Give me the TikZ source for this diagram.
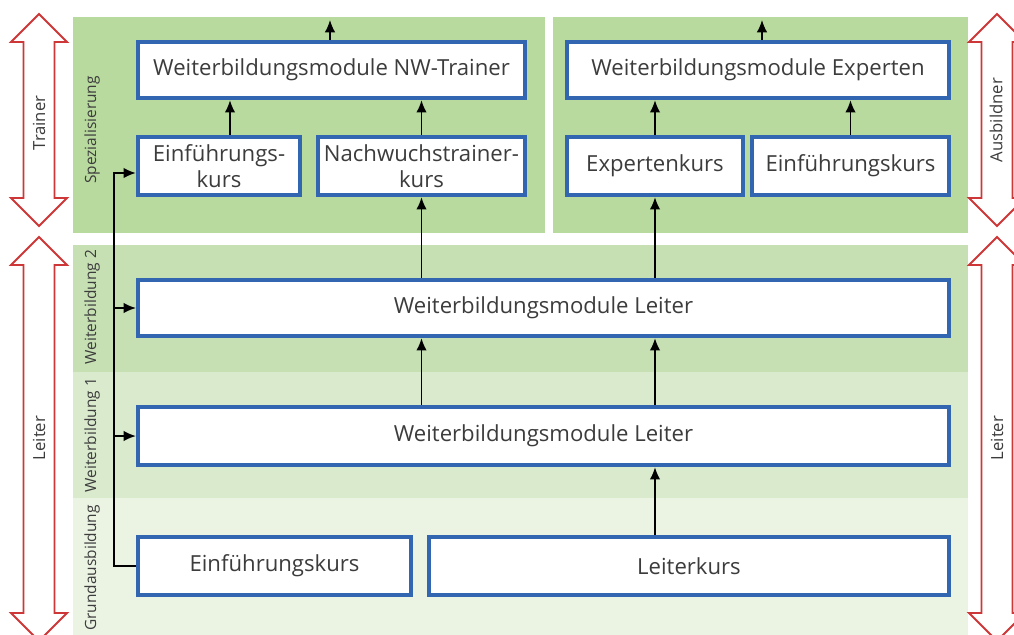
\documentclass[tikz,border=0pt]{standalone}
\usepackage{fontspec}
\setmainfont{Open Sans}
\usetikzlibrary{arrows.meta}

\definecolor{panelgreen}{RGB}{184,218,158}
\definecolor{bandtwo}{RGB}{198,224,180}
\definecolor{bandone}{RGB}{217,234,205}
\definecolor{bandbase}{RGB}{235,243,227}
\definecolor{boxblue}{RGB}{50,102,176}
\definecolor{textgray}{RGB}{60,60,60}
\definecolor{arrowred}{RGB}{205,55,55}

\tikzset{
  modbox/.style={draw=boxblue, line width=2.5pt, fill=white, text=textgray,
    font=\fontsize{12.6}{14.8}\selectfont, align=center, inner sep=0pt},
  bandlabel/.style={rotate=90, text=textgray, font=\fontsize{8.8}{10}\selectfont},
  sidelabel/.style={rotate=90, text=textgray, font=\fontsize{9.5}{11}\selectfont},
  redarrow/.style={draw=arrowred, line width=1.1pt, fill=white, line join=miter},
  link/.style={->, line width=0.9pt},
  >={Latex[length=7pt,width=6pt]}
}

% big red double arrow: centre x, top tip, bottom tip
\newcommand{\bigarrow}[3]{%
  \draw[redarrow] ({#1-28},{#2+28}) -- (#1,#2) -- ({#1+28},{#2+28}) -- ({#1+15.5},{#2+28})
    -- ({#1+15.5},{#3-28}) -- ({#1+28},{#3-28}) -- (#1,#3) -- ({#1-28},{#3-28})
    -- ({#1-15.5},{#3-28}) -- ({#1-15.5},{#2+28}) -- cycle;}

\begin{document}
\begin{tikzpicture}[x=0.02cm, y=-0.02cm]
        \useasboundingbox (0,0) rectangle (1014,635);
        \clip (0,0) rectangle (1014,635);

        % Background panels
        \fill[panelgreen] (73,17) rectangle (545,233);
        \fill[panelgreen] (553,17) rectangle (968,233);
        \fill[bandtwo] (73,245) rectangle (968,372);
        \fill[bandone] (73,372) rectangle (968,498);
        \fill[bandbase] (73,498) rectangle (968,635);

        % Band labels
        \node[bandlabel] (spez) at (92,130) {Spezialisierung};
        \node[bandlabel] (wbtwo) at (92,307) {Weiterbildung 2};
        \node[bandlabel] (wbone) at (92,435) {Weiterbildung 1};
        \node[bandlabel] (grund) at (92,568) {Grundausbildung};

        % Side arrows
        \bigarrow{39}{14}{226}
        \bigarrow{39}{237}{641}
        \bigarrow{997}{14}{226}
        \bigarrow{997}{237}{641}
        \node[sidelabel] (trainer) at (39,123) {Trainer};
        \node[sidelabel] (leiterl) at (39,438) {Leiter};
        \node[sidelabel] (ausbildner) at (996,120) {Ausbildner};
        \node[sidelabel] (leiterr) at (997,438) {Leiter};

        % Spezialisierung Trainer
        \node[modbox, minimum width=7.74cm, minimum height=1.12cm] (nwt) at (331.5,70) {Weiterbildungsmodule NW-Trainer};
        \node[modbox, minimum width=3.24cm, minimum height=1.16cm] (ekone) at (219,166) {Einführungs-\\kurs};
        \node[modbox, minimum width=4.14cm, minimum height=1.16cm] (nwk) at (421.5,166) {Nachwuchstrainer-\\kurs};

        % Spezialisierung Experten
        \node[modbox, minimum width=7.64cm, minimum height=1.12cm] (exp) at (758,70) {Weiterbildungsmodule Experten};
        \node[modbox, minimum width=3.52cm, minimum height=1.16cm] (expk) at (655,166) {Expertenkurs};
        \node[modbox, minimum width=3.94cm, minimum height=1.16cm] (ektwo) at (850.5,166) {Einführungskurs};

        % Leiter
        \node[modbox, minimum width=16.22cm, minimum height=1.12cm] (wbtwobox) at (543.5,308) {Weiterbildungsmodule Leiter};
        \node[modbox, minimum width=16.22cm, minimum height=1.16cm] (wbonebox) at (543.5,436) {Weiterbildungsmodule Leiter};
        \node[modbox, minimum width=5.46cm, minimum height=1.16cm] (ekthree) at (274.5,566) {Einführungskurs};
        \node[modbox, minimum width=10.40cm, minimum height=1.16cm] (lk) at (689,566) {Leiterkurs};

        % Arrows out of the top
        \coordinate (nwtout) at (330,20);
        \coordinate (expout) at (762,20);
        \draw[link] (nwtout |- nwt.north) -- (nwtout);
        \draw[link] (expout |- exp.north) -- (expout);

        % Spezialisierung arrows
        \draw[link] ([xshift=0.22cm]ekone.north) -- ([xshift=0.22cm]ekone.north |- nwt.south);
        \draw[link] (nwk.north) -- (nwk.north |- nwt.south);
        \draw[link] (expk.north) -- (expk.north |- exp.south);
        \draw[link] (ektwo.north) -- (ektwo.north |- exp.south);

        % Leiter arrows
        \draw[link] (nwk.south |- wbtwobox.north) -- (nwk.south);
        \draw[link] (expk.south |- wbtwobox.north) -- (expk.south);
        \draw[link] (nwk.south |- wbonebox.north) -- (nwk.south |- wbtwobox.south);
        \draw[link] (expk.south |- wbonebox.north) -- (expk.south |- wbtwobox.south);
        \draw[link] (expk.south |- lk.north) -- (expk.south |- wbonebox.south);

        % Einführungskurs line on the left
        \coordinate (bus) at (114,566);
        \draw[link] (ekthree.west) -- (bus) |- ([yshift=-0.14cm]ekone.west);
        \draw[link] (bus |- wbtwobox.west) -- (wbtwobox.west);
        \draw[link] (bus |- wbonebox.west) -- (wbonebox.west);

    \end{tikzpicture}
\end{document}
